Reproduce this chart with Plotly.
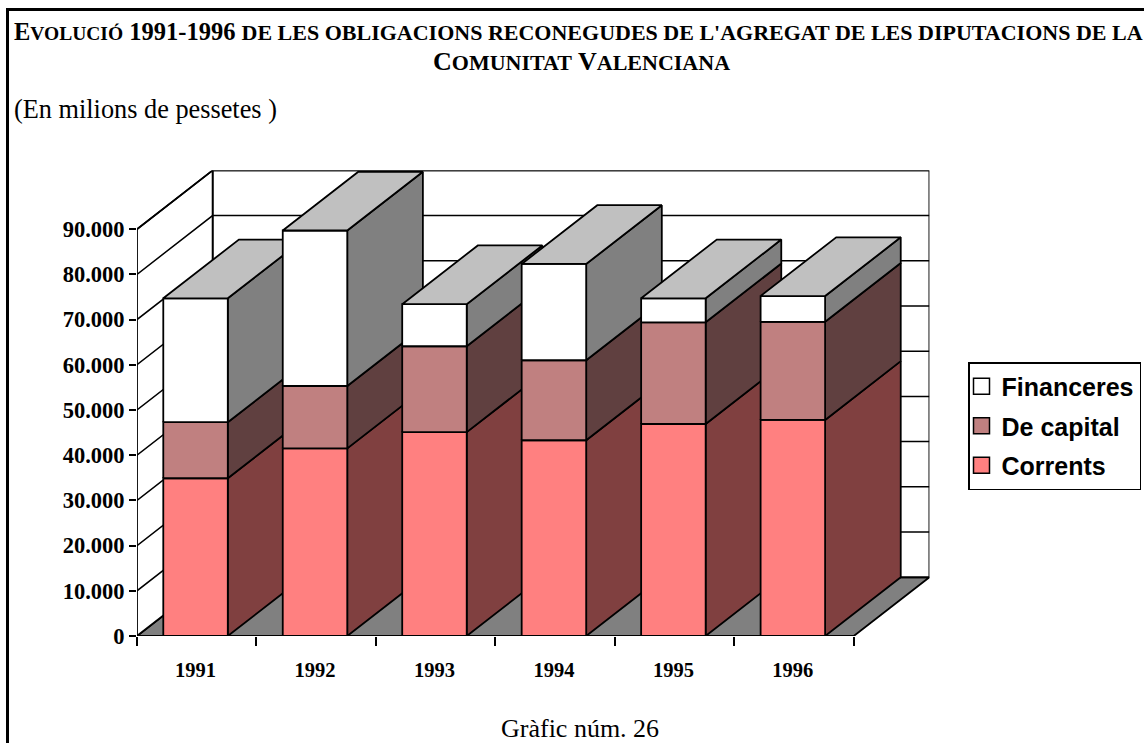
import plotly.graph_objects as go

# ---- data ----
years = ["1991", "1992", "1993", "1994", "1995", "1996"]
corrents = [34900, 41500, 45100, 43300, 46900, 47800]
de_capital = [12400, 13800, 19000, 17700, 22500, 21700]
financeres = [27400, 34400, 9300, 21300, 5300, 5700]
y_ticks = [0, 10000, 20000, 30000, 40000, 50000, 60000, 70000, 80000, 90000]
y_labels = ["0", "10.000", "20.000", "30.000", "40.000", "50.000", "60.000", "70.000", "80.000", "90.000"]

# ---- geometry of the 3-D look, in axis units ----
W, H = 1144, 743
DX, DY = 0.633, 13000      # depth of the box
BAR_L, BAR_W = 0.22, 0.54  # bar inset and width in one category
N = len(years)
YMAX = 90000

def px(x): return x / W
def py(y): return 1 - y / H

SERIF = "Liberation Serif"
SANS = "Liberation Sans"
LW = 1.8

fig = go.Figure()

def poly(xs, ys, fill, lw=LW):
    fig.add_trace(go.Scatter(x=xs, y=ys, mode="lines", fill="toself", fillcolor=fill,
                             line=dict(color="black", width=lw), showlegend=False,
                             hoverinfo="skip", cliponaxis=False))

# floor, back wall, side wall
poly([0, DX, N + DX, N, 0], [0, DY, DY, 0, 0], "#808080")
poly([DX, N + DX, N + DX, DX, DX], [DY, DY, YMAX + DY, YMAX + DY, DY], "white")
poly([0, DX, DX, 0, 0], [0, DY, YMAX + DY, YMAX, 0], "white")

# wall grid lines
gx, gy = [], []
for t in y_ticks[1:]:
    gx += [0, DX, N + DX, None]
    gy += [t, t + DY, t + DY, None]
fig.add_trace(go.Scatter(x=gx, y=gy, mode="lines", line=dict(color="black", width=1.5),
                         showlegend=False, hoverinfo="skip", cliponaxis=False))

# bars, left to right so that each bar hides the side of the previous one
series = [
    (corrents, "#FF8080", "#804040"),
    (de_capital, "#C08080", "#604040"),
    (financeres, "white", "#808080"),
]
for i in range(N):
    x0 = i + BAR_L
    x1 = x0 + BAR_W
    base = 0
    for values, front, side in series:
        top = base + values[i]
        poly([x1, x1 + DX, x1 + DX, x1, x1], [base, base + DY, top + DY, top, base], side)
        poly([x0, x1, x1, x0, x0], [base, base, top, top, base], front)
        base = top
    poly([x0, x1, x1 + DX, x0 + DX, x0], [base, base, base + DY, base + DY, base], "#C0C0C0")

# legend entries
for name, color in [("Financeres", "white"), ("De capital", "#C08080"), ("Corrents", "#FF8080")]:
    fig.add_trace(go.Scatter(x=[None], y=[None], mode="markers", name=name, legendgroup=name,
                             marker=dict(symbol="square", size=16, color=color,
                                         line=dict(color="black", width=1.5))))

def note(text, x, y, size, bold=False, anchor="center"):
    fig.add_annotation(text=text, x=px(x), y=py(y), xref="paper", yref="paper", showarrow=False,
                       xanchor=anchor, yanchor="middle", align="center",
                       font=dict(family=SERIF, size=size, color="black",
                                 weight="bold" if bold else "normal"))

def sm(t, s=22):
    return f'<span style="font-size:{s}px">{t}</span>'

note("E" + sm("VOLUCIÓ", 19.5) + " 1991-1996 " +
     sm("DE LES OBLIGACIONS RECONEGUDES DE L'AGREGAT DE LES DIPUTACIONS DE LA"),
     578, 31, 24.5, True)
note("C" + sm("OMUNITAT") + " V" + sm("ALENCIANA"), 581, 62, 26, True)
note("(En milions de pessetes )", 12, 109, 26.3, False, "left")
note("Gràfic núm. 26", 580, 728, 26)

fig.update_layout(
    width=W, height=H, autosize=False,
    margin=dict(l=0, r=0, t=0, b=0, pad=0, autoexpand=False),
    paper_bgcolor="white", plot_bgcolor="rgba(0,0,0,0)",
    xaxis=dict(domain=[px(137), px(929.4)], range=[0, N + DX], showgrid=False, zeroline=False,
               showline=False, tickmode="array",
               tickvals=[i + 0.49 for i in range(N)], ticktext=years,
               ticks="outside", ticklen=15, tickcolor="rgba(0,0,0,0)",
               tickfont=dict(family=SERIF, size=20.5, color="black", weight="bold"),
               minor=dict(tickmode="array", tickvals=list(range(N + 1)), ticks="outside",
                          ticklen=9, tickwidth=1.5, tickcolor="black")),
    yaxis=dict(domain=[py(636), py(170.4)], range=[0, YMAX + DY], showgrid=False, zeroline=False,
               showline=False, tickmode="array", tickvals=y_ticks, ticktext=y_labels,
               ticks="outside", ticklen=7, tickwidth=2, tickcolor="black",
               tickfont=dict(family=SERIF, size=22.5, color="black", weight="bold")),
    legend=dict(x=px(968), y=py(362), xanchor="left", yanchor="top",
                bgcolor="white", bordercolor="black", borderwidth=1.5,
                traceorder="grouped", tracegroupgap=4, indentation=-8,
                font=dict(family=SANS, size=25, color="black", weight="bold")),
    shapes=[
        dict(type="line", xref="paper", yref="paper", x0=px(7.5), x1=px(7.5), y0=0, y1=py(8),
             line=dict(color="black", width=3)),
        dict(type="line", xref="paper", yref="paper", x0=px(6), x1=1, y0=py(9.5), y1=py(9.5),
             line=dict(color="black", width=3)),
    ],
)

fig.write_html("out.html", config=dict(displayModeBar=False),
               post_script="document.body.style.margin='0';")
